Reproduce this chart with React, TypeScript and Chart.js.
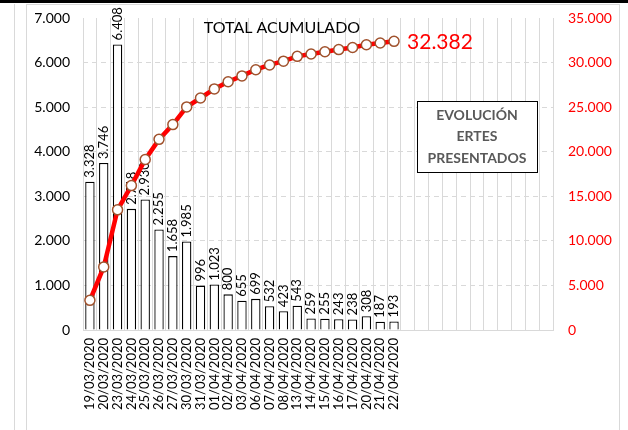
import React, { useEffect, useRef } from "react";
import { Chart, registerables } from "chart.js";

Chart.register(...registerables);

const dates = [
  "19/03/2020", "20/03/2020", "23/03/2020", "24/03/2020", "25/03/2020", "26/03/2020",
  "27/03/2020", "30/03/2020", "31/03/2020", "01/04/2020", "02/04/2020", "03/04/2020",
  "06/04/2020", "07/04/2020", "08/04/2020", "13/04/2020", "14/04/2020", "15/04/2020",
  "16/04/2020", "17/04/2020", "20/04/2020", "21/04/2020", "22/04/2020",
];
const emptySlots = ["", "", "", "", "", "", "", "", "", "", ""];
const dailyErtes = [
  3328, 3746, 6408, 2718, 2930, 2255, 1658, 1985, 996, 1023, 800, 655,
  699, 532, 423, 543, 259, 255, 243, 238, 308, 187, 193,
];
const cumulativeErtes = [
  3328, 7074, 13482, 16200, 19130, 21385, 23043, 25028, 26024, 27047, 27847, 28502,
  29201, 29733, 30156, 30699, 30958, 31213, 31456, 31694, 32002, 32189, 32382,
];
const boxLines = ["EVOLUCIÓN", "ERTES", "PRESENTADOS"];
const chartTitle = "TOTAL ACUMULADO";

const FONT = "Lato";

function fmt(v: number): string {
  const s = Math.round(v).toString();
  return s.replace(/\B(?=(\d{3})+(?!\d))/g, ".");
}

const decorPlugin = {
  id: "decor",
  beforeDraw(chart: any) {
    const { ctx, width, height } = chart;
    ctx.save();
    ctx.fillStyle = "#ffffff";
    ctx.fillRect(0, 0, width, height);
    ctx.fillStyle = "#000000";
    ctx.fillRect(0, 0, width, 3);
    ctx.strokeStyle = "#d9d9d9";
    ctx.lineWidth = 1;
    ctx.beginPath();
    ctx.moveTo(14.5, 4);
    ctx.lineTo(14.5, height);
    ctx.moveTo(26.5, 4);
    ctx.lineTo(26.5, height);
    ctx.moveTo(619.5, 4);
    ctx.lineTo(619.5, height);
    ctx.moveTo(26.5, 4.5);
    ctx.lineTo(619.5, 4.5);
    ctx.stroke();
    ctx.restore();
  },
  afterDatasetDraw(chart: any, args: any) {
    if (args.index !== 0) return;
    const { ctx } = chart;
    const meta = chart.getDatasetMeta(0);
    ctx.save();
    ctx.fillStyle = "#000000";
    ctx.font = `13px ${FONT}`;
    ctx.textAlign = "left";
    ctx.textBaseline = "middle";
    meta.data.forEach((el: any, i: number) => {
      const v = dailyErtes[i];
      if (v == null) return;
      ctx.save();
      ctx.translate(el.x, el.y - 4);
      ctx.rotate(-Math.PI / 2);
      ctx.fillText(fmt(v), 0, 0);
      ctx.restore();
    });
    ctx.restore();
  },
  afterDraw(chart: any) {
    const { ctx, chartArea } = chart;
    ctx.save();
    ctx.fillStyle = "#000000";
    ctx.font = `16px ${FONT}`;
    ctx.textAlign = "center";
    ctx.textBaseline = "middle";
    ctx.fillText(chartTitle, chartArea.left + 199, chartArea.top + 10);

    const meta = chart.getDatasetMeta(1);
    const last = cumulativeErtes.length - 1;
    const pt = meta.data[last];
    if (pt) {
      ctx.fillStyle = "#ff0000";
      ctx.font = `21px ${FONT}`;
      ctx.textAlign = "left";
      ctx.fillText(fmt(cumulativeErtes[last]), pt.x + 13, pt.y + 1);
    }

    const bx = chartArea.left + 334;
    const by = chartArea.top + 83;
    const bw = 120;
    const bh = 71;
    ctx.fillStyle = "#ffffff";
    ctx.fillRect(bx, by, bw, bh);
    ctx.strokeStyle = "#000000";
    ctx.lineWidth = 1;
    ctx.strokeRect(bx + 0.5, by + 0.5, bw, bh);
    ctx.fillStyle = "#595959";
    ctx.font = `bold 14px ${FONT}`;
    ctx.textAlign = "center";
    boxLines.forEach((line, i) => {
      ctx.fillText(line, bx + bw / 2, by + 14 + i * 21.5);
    });
    ctx.restore();
  },
};

export default function App() {
  const ref = useRef<HTMLCanvasElement | null>(null);
  useEffect(() => {
    if (!ref.current) return;
    const labels = [...dates, ...emptySlots];
    const chart = new Chart(ref.current, {
      type: "bar",
      data: {
        labels,
        datasets: [
          {
            type: "bar",
            data: dailyErtes,
            backgroundColor: "#ffffff",
            borderColor: "#000000",
            borderWidth: 1.3,
            categoryPercentage: 1,
            barPercentage: 0.68,
            yAxisID: "y",
            order: 1,
          } as any,
          {
            type: "line",
            data: cumulativeErtes,
            borderColor: "#ff0000",
            borderWidth: 4.5,
            pointRadius: 5,
            pointBackgroundColor: "#ffffff",
            pointBorderColor: "#A0522D",
            pointBorderWidth: 1.5,
            tension: 0,
            yAxisID: "y1",
            order: 0,
          } as any,
        ],
      },
      options: {
        animation: false,
        responsive: false,
        layout: { padding: { top: 18, left: 0, right: 0, bottom: 0 } },
        plugins: {
          legend: { display: false },
          tooltip: { enabled: false },
          title: { display: false },
        },
        scales: {
          x: {
            offset: true,
            grid: { color: "#d9d9d9", lineWidth: 1, drawTicks: false, offset: true },
            border: { color: "#d9d9d9" },
            ticks: {
              color: "#000000",
              font: { family: FONT, size: 13 },
              minRotation: 90,
              maxRotation: 90,
              autoSkip: false,
              padding: 8,
            },
            afterFit(scale: any) {
              scale.height = 100;
              scale.paddingLeft = 0;
              scale.paddingRight = 0;
            },
          },
          y: {
            position: "left",
            min: 0,
            max: 7000,
            ticks: {
              stepSize: 1000,
              color: "#000000",
              font: { family: FONT, size: 14 },
              padding: 13,
              callback: (v: any) => fmt(Number(v)),
            },
            grid: {
              color: (c: any) => (c.tick && c.tick.value === 7000 ? "rgba(0,0,0,0)" : "#d9d9d9"),
              drawTicks: false,
            },
            border: { display: false, dash: [5, 4] },
            afterFit(scale: any) {
              scale.width = 83;
              scale.paddingTop = 0;
              scale.paddingBottom = 0;
            },
          },
          y1: {
            position: "right",
            min: 0,
            max: 35000,
            ticks: {
              stepSize: 5000,
              color: "#ff0000",
              font: { family: FONT, size: 14 },
              padding: 15,
              callback: (v: any) => fmt(Number(v)),
            },
            grid: { display: false, drawTicks: false },
            border: { display: false },
            afterFit(scale: any) {
              scale.width = 75;
              scale.paddingTop = 0;
              scale.paddingBottom = 0;
            },
          },
        },
      } as any,
      plugins: [decorPlugin],
    });
    return () => chart.destroy();
  }, []);
  return (
    <div style={{ position: "absolute", left: 0, top: 0, width: 628, height: 430 }}>
      <canvas ref={ref} width={628} height={430} style={{ display: "block" }} />
    </div>
  );
}
